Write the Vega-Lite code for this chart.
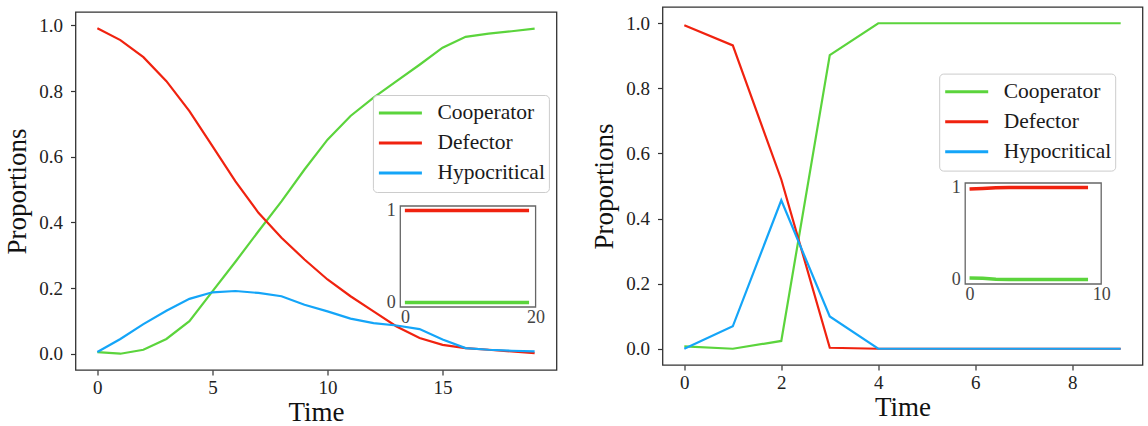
{
  "$schema": "https://vega.github.io/schema/vega-lite/v6.json",
  "padding": {"left": 2.5, "top": 6, "right": 0, "bottom": 0},
  "background": "white",
  "spacing": 32,
  "config": {
    "view": {"stroke": "#333333", "strokeWidth": 1.3},
    "font": "Liberation Serif",
    "axis": {
      "labelFont": "Liberation Serif", "titleFont": "Liberation Serif",
      "labelFontSize": 19, "titleFontSize": 27, "titleFontWeight": "normal",
      "labelColor": "#222222", "titleColor": "#111111",
      "tickColor": "#333333", "tickSize": 5, "tickWidth": 1.2,
      "grid": false, "domain": false, "labelFlush": false, "labelOverlap": false
    },
    "legend": {
      "orient": "none", "title": null,
      "symbolType": "stroke", "symbolSize": 1849, "symbolStrokeWidth": 3,
      "clipHeight": 29.2, "rowPadding": 0, "padding": 3.5,
      "symbolOffset": 1, "labelOffset": 14,
      "labelFont": "Liberation Serif", "labelFontSize": 21.5, "labelColor": "#1a1a1a", "labelLimit": 0,
      "strokeColor": "#cccccc", "fillColor": "rgba(255,255,255,0.85)", "cornerRadius": 4
    }
  },
  "datasets": {
    "left": [
      {"t":0,"series":"Cooperator","p":0.005},{"t":1,"series":"Cooperator","p":0.0},{"t":2,"series":"Cooperator","p":0.012},{"t":3,"series":"Cooperator","p":0.045},{"t":4,"series":"Cooperator","p":0.099},{"t":5,"series":"Cooperator","p":0.19},{"t":6,"series":"Cooperator","p":0.28},{"t":7,"series":"Cooperator","p":0.373},{"t":8,"series":"Cooperator","p":0.464},{"t":9,"series":"Cooperator","p":0.561},{"t":10,"series":"Cooperator","p":0.652},{"t":11,"series":"Cooperator","p":0.724},{"t":12,"series":"Cooperator","p":0.78},{"t":13,"series":"Cooperator","p":0.83},{"t":14,"series":"Cooperator","p":0.88},{"t":15,"series":"Cooperator","p":0.932},{"t":16,"series":"Cooperator","p":0.965},{"t":17,"series":"Cooperator","p":0.975},{"t":18,"series":"Cooperator","p":0.982},{"t":19,"series":"Cooperator","p":0.99},
      {"t":0,"series":"Defector","p":0.991},{"t":1,"series":"Defector","p":0.955},{"t":2,"series":"Defector","p":0.903},{"t":3,"series":"Defector","p":0.83},{"t":4,"series":"Defector","p":0.739},{"t":5,"series":"Defector","p":0.632},{"t":6,"series":"Defector","p":0.525},{"t":7,"series":"Defector","p":0.429},{"t":8,"series":"Defector","p":0.353},{"t":9,"series":"Defector","p":0.287},{"t":10,"series":"Defector","p":0.226},{"t":11,"series":"Defector","p":0.175},{"t":12,"series":"Defector","p":0.129},{"t":13,"series":"Defector","p":0.083},{"t":14,"series":"Defector","p":0.048},{"t":15,"series":"Defector","p":0.027},{"t":16,"series":"Defector","p":0.017},{"t":17,"series":"Defector","p":0.012},{"t":18,"series":"Defector","p":0.007},{"t":19,"series":"Defector","p":0.002},
      {"t":0,"series":"Hypocritical","p":0.005},{"t":1,"series":"Hypocritical","p":0.045},{"t":2,"series":"Hypocritical","p":0.09},{"t":3,"series":"Hypocritical","p":0.131},{"t":4,"series":"Hypocritical","p":0.167},{"t":5,"series":"Hypocritical","p":0.187},{"t":6,"series":"Hypocritical","p":0.191},{"t":7,"series":"Hypocritical","p":0.185},{"t":8,"series":"Hypocritical","p":0.175},{"t":9,"series":"Hypocritical","p":0.149},{"t":10,"series":"Hypocritical","p":0.129},{"t":11,"series":"Hypocritical","p":0.107},{"t":12,"series":"Hypocritical","p":0.093},{"t":13,"series":"Hypocritical","p":0.086},{"t":14,"series":"Hypocritical","p":0.075},{"t":15,"series":"Hypocritical","p":0.043},{"t":16,"series":"Hypocritical","p":0.017},{"t":17,"series":"Hypocritical","p":0.012},{"t":18,"series":"Hypocritical","p":0.009},{"t":19,"series":"Hypocritical","p":0.007}
    ],
    "right": [
      {"t":0,"series":"Cooperator","p":0.007},{"t":1,"series":"Cooperator","p":0.0},{"t":2,"series":"Cooperator","p":0.024},{"t":3,"series":"Cooperator","p":0.902},{"t":4,"series":"Cooperator","p":1.0},{"t":5,"series":"Cooperator","p":1.0},{"t":6,"series":"Cooperator","p":1.0},{"t":7,"series":"Cooperator","p":1.0},{"t":8,"series":"Cooperator","p":1.0},{"t":9,"series":"Cooperator","p":1.0},
      {"t":0,"series":"Defector","p":0.994},{"t":1,"series":"Defector","p":0.932},{"t":2,"series":"Defector","p":0.52},{"t":3,"series":"Defector","p":0.003},{"t":4,"series":"Defector","p":0.0},{"t":5,"series":"Defector","p":0.0},{"t":6,"series":"Defector","p":0.0},{"t":7,"series":"Defector","p":0.0},{"t":8,"series":"Defector","p":0.0},{"t":9,"series":"Defector","p":0.0},
      {"t":0,"series":"Hypocritical","p":0.0},{"t":1,"series":"Hypocritical","p":0.069},{"t":2,"series":"Hypocritical","p":0.456},{"t":3,"series":"Hypocritical","p":0.099},{"t":4,"series":"Hypocritical","p":0.0},{"t":5,"series":"Hypocritical","p":0.0},{"t":6,"series":"Hypocritical","p":0.0},{"t":7,"series":"Hypocritical","p":0.0},{"t":8,"series":"Hypocritical","p":0.0},{"t":9,"series":"Hypocritical","p":0.0}
    ],
    "leftInset": [
      {"t":0,"series":"Cooperator","p":0.0},{"t":19,"series":"Cooperator","p":0.0},
      {"t":0,"series":"Defector","p":1.0},{"t":19,"series":"Defector","p":1.0}
    ],
    "rightInset": [
      {"t":0,"series":"Cooperator","p":0.015},{"t":1,"series":"Cooperator","p":0.012},{"t":2,"series":"Cooperator","p":0.003},{"t":3,"series":"Cooperator","p":0.0},{"t":4,"series":"Cooperator","p":0.0},{"t":5,"series":"Cooperator","p":0.0},{"t":6,"series":"Cooperator","p":0.0},{"t":7,"series":"Cooperator","p":0.0},{"t":8,"series":"Cooperator","p":0.0},{"t":9,"series":"Cooperator","p":0.0},
      {"t":0,"series":"Defector","p":0.985},{"t":1,"series":"Defector","p":0.99},{"t":2,"series":"Defector","p":0.998},{"t":3,"series":"Defector","p":1.0},{"t":4,"series":"Defector","p":1.0},{"t":5,"series":"Defector","p":1.0},{"t":6,"series":"Defector","p":1.0},{"t":7,"series":"Defector","p":1.0},{"t":8,"series":"Defector","p":1.0},{"t":9,"series":"Defector","p":1.0}
    ],
    "leftBox": [{"x1": -0.7, "x2": 20.0, "y1": -0.05, "y2": 1.05}],
    "rightBox": [{"x1": -0.33, "x2": 10.0, "y1": -0.05, "y2": 1.05}]
  },
  "resolve": {"scale": {"color": "independent"}, "legend": {"color": "independent"}},
  "hconcat": [
    {
      "vconcat": [
        {
          "width": 481, "height": 5,
          "view": {"stroke": null},
          "data": {"values": []},
          "mark": {"type": "rule"},
          "encoding": {}
        },
        {
          "width": 481, "height": 358,
          "resolve": {"scale": {"x": "independent", "y": "independent"}},
          "layer": [
            {
              "data": {"name": "left"},
              "mark": {"type": "line", "strokeWidth": 2.2},
              "encoding": {
                "x": {"field": "t", "type": "quantitative",
                      "scale": {"domain": [-0.95, 19.95], "nice": false, "zero": false},
                      "axis": {"title": "Time", "values": [0, 5, 10, 15], "labelPadding": 3.8, "titlePadding": 2}},
                "y": {"field": "p", "type": "quantitative",
                      "scale": {"domain": [-0.0496, 1.0406], "nice": false, "zero": false},
                      "axis": {"title": "Proportions", "values": [0, 0.2, 0.4, 0.6, 0.8, 1.0], "format": ".1f", "labelPadding": 8, "titlePadding": 7}},
                "color": {"field": "series", "type": "nominal",
                          "scale": {"domain": ["Cooperator", "Defector", "Hypocritical"], "range": ["#5bd43c", "#f0220f", "#14a5f8"]},
                          "legend": {"legendX": 297.4, "legendY": 88}}
              }
            },
            {
              "layer": [
                {
                  "data": {"name": "leftBox"},
                  "mark": {"type": "rect", "fill": "white", "stroke": "#666666", "strokeWidth": 1.3},
                  "encoding": {
                    "x": {"field": "x1", "type": "quantitative",
                          "scale": {"domain": [-0.7, 20.0], "range": [324.8, 460.1], "nice": false, "zero": false},
                          "axis": {"title": null, "orient": "bottom", "offset": -63, "values": [0, 20], "format": "d", "ticks": false, "labelPadding": 1, "labelFontSize": 18, "labelColor": "#444444"}},
                    "x2": {"field": "x2"},
                    "y": {"field": "y1", "type": "quantitative",
                          "scale": {"domain": [-0.05, 1.05], "range": [295, 194], "nice": false, "zero": false},
                          "axis": {"title": null, "orient": "left", "offset": -324.8, "values": [0, 1], "format": "d", "ticks": false, "labelPadding": 5, "labelFontSize": 18, "labelColor": "#444444"}},
                    "y2": {"field": "y2"}
                  }
                },
                {
                  "data": {"name": "leftInset"},
                  "mark": {"type": "line", "strokeWidth": 3.5},
                  "encoding": {
                    "x": {"field": "t", "type": "quantitative",
                          "scale": {"domain": [-0.7, 20.0], "range": [324.8, 460.1], "nice": false, "zero": false}},
                    "y": {"field": "p", "type": "quantitative",
                          "scale": {"domain": [-0.05, 1.05], "range": [295, 194], "nice": false, "zero": false}},
                    "color": {"field": "series", "type": "nominal",
                              "scale": {"domain": ["Cooperator", "Defector", "Hypocritical"], "range": ["#5bd43c", "#f0220f", "#14a5f8"]}}
                  }
                }
              ]
            }
          ]
        }
      ],
      "spacing": 0,
      "bounds": "flush"
    },
    {
      "width": 480, "height": 358,
      "resolve": {"scale": {"x": "independent", "y": "independent"}},
      "layer": [
        {
          "data": {"name": "right"},
          "mark": {"type": "line", "strokeWidth": 2.2},
          "encoding": {
            "x": {"field": "t", "type": "quantitative",
                  "scale": {"domain": [-0.45, 9.45], "nice": false, "zero": false},
                  "axis": {"title": "Time", "values": [0, 2, 4, 6, 8], "labelPadding": 3.8, "titlePadding": 2}},
            "y": {"field": "p", "type": "quantitative",
                  "scale": {"domain": [-0.05, 1.05], "nice": false, "zero": false},
                  "axis": {"title": "Proportions", "values": [0, 0.2, 0.4, 0.6, 0.8, 1.0], "format": ".1f", "labelPadding": 8, "titlePadding": 7}},
            "color": {"field": "series", "type": "nominal",
                      "scale": {"domain": ["Cooperator", "Defector", "Hypocritical"], "range": ["#5bd43c", "#f0220f", "#14a5f8"]},
                      "legend": {"legendX": 276.7, "legendY": 66.6}}
          }
        },
        {
          "layer": [
            {
              "data": {"name": "rightBox"},
              "mark": {"type": "rect", "fill": "white", "stroke": "#666666", "strokeWidth": 1.3},
              "encoding": {
                "x": {"field": "x1", "type": "quantitative",
                      "scale": {"domain": [-0.33, 10.0], "range": [302.7, 438.7], "nice": false, "zero": false},
                      "axis": {"title": null, "orient": "bottom", "offset": -81, "values": [0, 10], "format": "d", "ticks": false, "labelPadding": 1, "labelFontSize": 18, "labelColor": "#444444"}},
                "x2": {"field": "x2"},
                "y": {"field": "y1", "type": "quantitative",
                      "scale": {"domain": [-0.05, 1.05], "range": [277, 176], "nice": false, "zero": false},
                      "axis": {"title": null, "orient": "left", "offset": -302.7, "values": [0, 1], "format": "d", "ticks": false, "labelPadding": 5, "labelFontSize": 18, "labelColor": "#444444"}},
                "y2": {"field": "y2"}
              }
            },
            {
              "data": {"name": "rightInset"},
              "mark": {"type": "line", "strokeWidth": 3.5},
              "encoding": {
                "x": {"field": "t", "type": "quantitative",
                      "scale": {"domain": [-0.33, 10.0], "range": [302.7, 438.7], "nice": false, "zero": false}},
                "y": {"field": "p", "type": "quantitative",
                      "scale": {"domain": [-0.05, 1.05], "range": [277, 176], "nice": false, "zero": false}},
                "color": {"field": "series", "type": "nominal",
                          "scale": {"domain": ["Cooperator", "Defector", "Hypocritical"], "range": ["#5bd43c", "#f0220f", "#14a5f8"]}}
              }
            }
          ]
        }
      ]
    }
  ]
}
